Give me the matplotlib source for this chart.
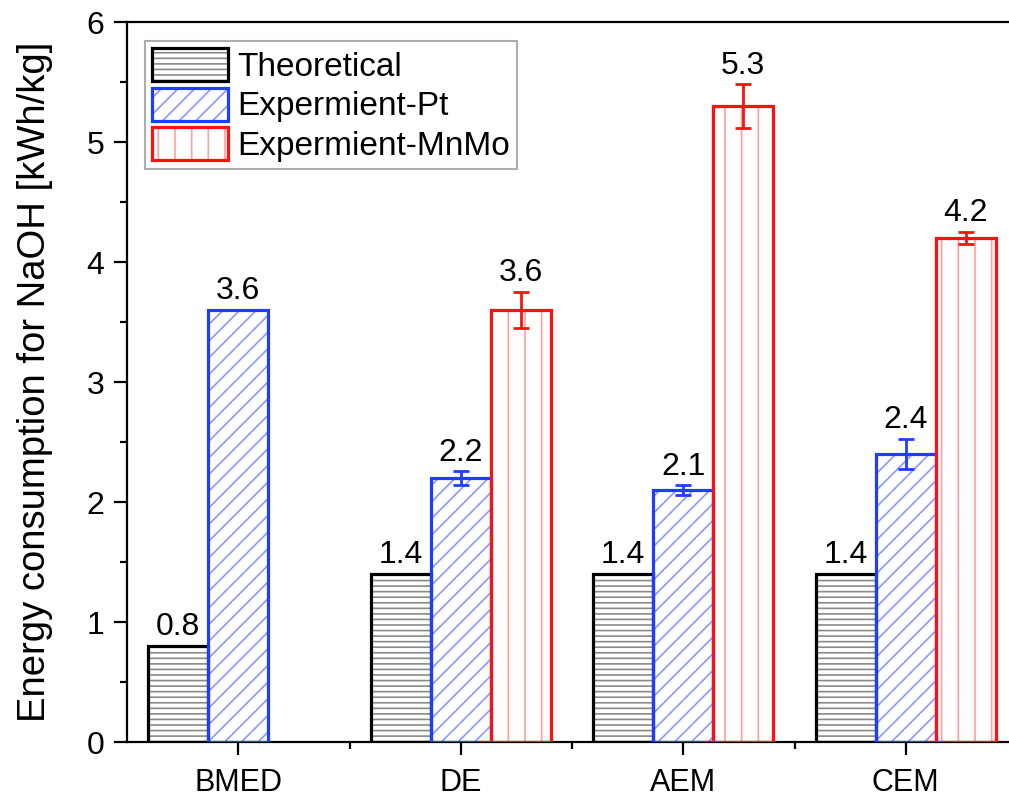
import numpy as np
import matplotlib
matplotlib.use("Agg")
import matplotlib.pyplot as plt
from matplotlib.ticker import MultipleLocator, FixedLocator

plt.rcParams['font.family'] = ['Liberation Sans', 'DejaVu Sans']
plt.rcParams['hatch.linewidth'] = 1.2

# data
categories = ['BMED', 'DE', 'AEM', 'CEM']
theoretical = [0.8, 1.4, 1.4, 1.4]
exp_pt = [3.6, 2.2, 2.1, 2.4]
exp_pt_err = [np.nan, 0.055, 0.04, 0.125]
exp_mnmo = [np.nan, 3.6, 5.3, 4.2]
exp_mnmo_err = [np.nan, 0.15, 0.18, 0.05]
series_names = ['Theoretical', 'Expermient-Pt', 'Expermient-MnMo']

W, H = 1009, 796
fig = plt.figure(figsize=(W / 100, H / 100), dpi=100)
ax = fig.add_axes([127 / W, 54 / H, 890 / W, 720 / H])

x = np.arange(1, len(categories) + 1)
bw = 0.27

series = [
    (theoretical, None, -bw, 'black', '#8a8a8a', '---'),
    (exp_pt, exp_pt_err, 0.0, '#1f3dff', '#8c96ff', '//'),
    (exp_mnmo, exp_mnmo_err, bw, '#ff1010', '#ffa0a0', '|'),
]

handles = []
for vals, errs, off, ec, hc, hatch in series:
    vals = np.array(vals, dtype=float)
    ok = ~np.isnan(vals)
    # hatch layer, then a solid outline on top
    b1 = ax.bar(x[ok] + off, vals[ok], bw, color='white', edgecolor=hc,
                hatch=hatch, linewidth=0, zorder=2)
    b2 = ax.bar(x[ok] + off, vals[ok], bw, fill=False, edgecolor=ec,
                linewidth=2.3, zorder=3)
    handles.append((b1.patches[0], b2.patches[0]))
    tops = vals.copy()
    if errs is not None:
        errs = np.array(errs, dtype=float)
        m = ok & ~np.isnan(errs)
        ax.errorbar(x[m] + off, vals[m], yerr=errs[m], fmt='none', ecolor=ec,
                    elinewidth=2.0, capsize=6, capthick=2.0, zorder=4)
        tops = np.where(np.isnan(errs), vals, vals + errs)
    for xi, v, t in zip(x[ok] + off, vals[ok], tops[ok]):
        ax.text(xi, t + 0.03, f'{v:.1f}', ha='center', va='bottom', fontsize=23)

ax.set_xlim(0.5, 4.5)
ax.set_ylim(0, 6)
ax.set_xticks(x)
ax.set_xticklabels(categories, fontsize=22)
ax.xaxis.set_minor_locator(FixedLocator([1.5, 2.5, 3.5]))
ax.yaxis.set_major_locator(MultipleLocator(1))
ax.yaxis.set_minor_locator(MultipleLocator(0.5))
ax.tick_params(axis='y', labelsize=23)
ax.tick_params(which='major', length=9.5, width=1.6, direction='out', pad=7)
ax.tick_params(which='minor', length=5, width=1.6, direction='out')
ax.tick_params(axis='x', which='major', pad=9)
for s in ax.spines.values():
    s.set_linewidth(1.6)

ax.set_ylabel('Energy consumption for NaOH [kWh/kg]', fontsize=27.5, labelpad=24)

leg = ax.legend(handles, series_names, loc='upper left',
                bbox_to_anchor=(18 / 890, (742 - 41) / 720), borderaxespad=0,
                fontsize=24, handlelength=2.3, handleheight=1.15,
                labelspacing=0.15, handletextpad=0.28, borderpad=0.2,
                fancybox=False, frameon=True)
leg.get_frame().set_edgecolor('#999999')
leg.get_frame().set_linewidth(1.5)

fig.savefig('out.png', dpi=100)
